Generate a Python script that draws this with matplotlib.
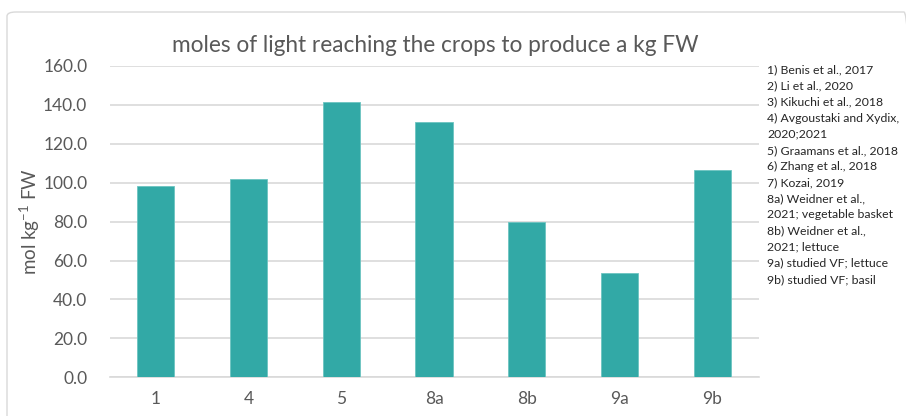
import matplotlib
matplotlib.use("Agg")
import matplotlib.pyplot as plt
from matplotlib.patches import FancyBboxPatch

categories = ["1", "4", "5", "8a", "8b", "9a", "9b"]
values = [98.5, 102.1, 141.5, 131.3, 79.6, 53.5, 106.7]
yticks = [0, 20, 40, 60, 80, 100, 120, 140, 160]
notes = [
    "1) Benis et al., 2017",
    "2) Li et al., 2020",
    "3) Kikuchi et al., 2018",
    "4) Avgoustaki and Xydix,",
    "2020;2021",
    "5) Graamans et al., 2018",
    "6) Zhang et al., 2018",
    "7) Kozai, 2019",
    "8a) Weidner et al.,",
    "2021; vegetable basket",
    "8b) Weidner et al.,",
    "2021; lettuce",
    "9a) studied VF; lettuce",
    "9b) studied VF; basil",
]
title = "moles of light reaching the crops to produce a kg FW"
ylabel = "mol kg$^{\\mathrm{-1}}$ FW"

plt.rcParams['font.family'] = ['Lato', 'DejaVu Sans']
plt.rcParams['mathtext.fontset'] = 'custom'
plt.rcParams['mathtext.rm'] = 'Lato'
plt.rcParams['mathtext.it'] = 'Lato'
plt.rcParams['mathtext.default'] = 'rm'

W, H = 906, 416
fig = plt.figure(figsize=(W / 100, H / 100), dpi=100)

# outer chart frame
frame = FancyBboxPatch((7 / W, -0.05), 1.0, (H - 12) / H + 0.05,
                       boxstyle="round,pad=0,rounding_size=0.01",
                       transform=fig.transFigure, fill=False,
                       edgecolor="#D9D9D9", linewidth=1.0)
fig.patches.append(frame)

ax = fig.add_axes([109.5 / W, 1 - 377.3 / H, 649 / W, (377.3 - 65.9) / H])
x = range(len(categories))
ax.bar(x, values, width=0.4, color="#32A9A6", edgecolor="#6CC4C1", linewidth=0.6, zorder=3)
ax.set_xlim(-0.5, len(categories) - 0.5)
ax.set_ylim(0, 160)
ax.set_yticks(yticks)
ax.set_yticklabels([f"{v:.1f}" for v in yticks])
ax.set_xticks(list(x))
ax.set_xticklabels(categories)
ax.grid(axis="y", color="#D9D9D9", linewidth=1.2, zorder=0)
for s in ["top", "right", "left"]:
    ax.spines[s].set_visible(False)
ax.spines["bottom"].set_color("#D9D9D9")
ax.spines["bottom"].set_linewidth(1.2)
ax.tick_params(axis="both", length=0, labelsize=12.5, colors="#595959")
ax.tick_params(axis="x", pad=10)
ax.tick_params(axis="y", pad=16)

fig.text(435 / W, 1 - 45 / H, title, ha="center", va="center", fontsize=16.3, color="#595959")
fig.text(30 / W, 1 - 222 / H, ylabel, ha="center", va="center", rotation=90,
         fontsize=13.5, color="#595959")

for i, t in enumerate(notes):
    fig.text(767 / W, 1 - (70 + i * 16.1) / H, t, ha="left", va="center",
             fontsize=8.8, color="#262626")

fig.savefig("out.png", dpi=100)
